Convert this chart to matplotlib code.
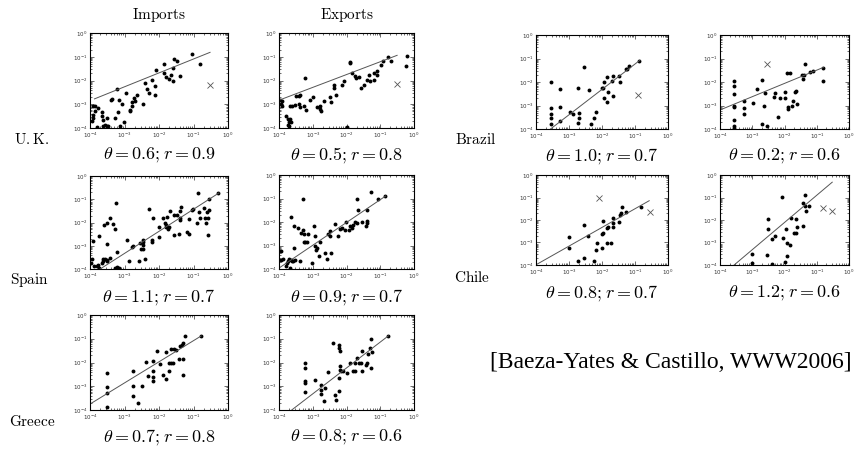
import numpy as np
import matplotlib
matplotlib.use("Agg")
import matplotlib.pyplot as plt
from matplotlib.ticker import LogLocator, LogFormatterSciNotation, NullFormatter

plt.rcParams['mathtext.fontset'] = 'cm'
plt.rcParams['axes.formatter.use_mathtext'] = True

# exponents (log10) of the points
uk_imp_x = [-1.04, -0.80, -1.86, -1.57, -1.48, -1.59, -1.64, -1.86, -1.80, -1.70, -1.59, -1.38, -2.08, -2.20,
            -2.40, -2.35, -2.11, -2.11, -2.30, -2.45, -2.64, -2.72, -2.69, -2.79, -2.83, -2.85, -2.96, -3.06,
            -3.22, -3.37, -3.40, -3.27, -3.20, -3.01, -3.13, -3.47, -3.51, -3.66, -3.66, -3.85, -3.90, -3.85,
            -3.76, -3.90, -3.95, -3.90, -3.61, -3.56, -3.51, -3.63, -3.81, -3.17, -2.79]
uk_imp_y = [-0.87, -1.32, -1.30, -1.11, -1.18, -1.46, -1.75, -1.70, -1.86, -1.93, -2.00, -1.82, -1.56, -1.96,
            -2.10, -2.34, -2.24, -2.59, -2.52, -2.97, -2.59, -2.73, -2.87, -2.92, -3.23, -3.30, -2.52, -2.97,
            -2.35, -2.76, -2.80, -3.58, -3.34, -3.76, -3.93, -3.90, -3.58, -3.34, -3.48, -3.27, -3.08, -3.06,
            -3.15, -3.44, -3.72, -3.58, -3.65, -3.86, -3.93, -3.90, -3.96, -2.80, -3.06]

uk_exp_x = [-0.20, -0.23, -0.76, -0.67, -0.93, -0.99, -1.09, -1.19, -1.09, -1.33, -1.39, -1.29, -1.19, -1.47,
            -1.57, -1.91, -1.90, -1.84, -1.76, -1.71, -1.64, -2.06, -2.13, -2.36, -2.38, -2.30, -2.50, -2.45,
            -2.68, -2.80, -2.86, -2.78, -2.75, -3.08, -2.98, -3.23, -3.26, -3.21, -3.42, -3.37, -3.49, -3.42,
            -3.37, -3.54, -3.67, -3.62, -3.97, -3.92, -3.95, -3.92, -3.80, -3.72, -3.67, -3.69, -3.65, -3.72,
            -3.69, -2.00]
uk_exp_y = [-0.97, -1.37, -1.00, -1.18, -1.18, -1.34, -1.58, -1.68, -1.75, -1.75, -1.96, -2.03, -1.99, -2.17,
            -2.31, -1.23, -1.25, -1.68, -1.79, -1.89, -1.85, -2.00, -2.17, -2.17, -2.31, -2.59, -2.69, -2.92,
            -2.87, -3.06, -3.11, -3.20, -3.30, -2.80, -2.70, -1.89, -3.08, -3.23, -2.66, -2.59, -2.66, -2.97,
            -3.11, -3.04, -3.06, -3.06, -2.80, -2.87, -2.97, -3.08, -3.51, -3.62, -3.61, -3.73, -3.73, -3.86,
            -3.93, -3.97]

es_imp_x = [-0.87, -0.29, -0.55, -1.36, -1.38, -1.67, -1.57, -1.77, -1.83, -1.79, -1.81, -1.71, -1.75, -1.48,
            -1.38, -1.40, -1.57, -1.43, -1.88, -2.16, -2.30, -2.01, -2.01, -2.20, -2.20, -2.45, -2.47, -2.47,
            -2.54, -2.52, -2.45, -2.42, -2.59, -2.74, -2.79, -2.93, -2.88, -3.17, -3.22, -3.27, -3.24, -3.42,
            -3.50, -3.59, -3.32, -3.27, -3.22, -3.51, -3.73, -3.42, -3.51, -3.56, -3.50, -3.61, -3.66, -3.76,
            -3.61, -3.79, -3.88, -3.95, -3.92, -3.98, -3.73, -1.14, -1.14, -1.01, -1.04, -0.84, -0.91, -0.80,
            -0.68, -0.70, -0.62, -0.58, -0.55, -0.65, -0.58, -1.18]
es_imp_y = [-0.75, -0.75, -1.00, -1.35, -1.49, -1.49, -1.68, -1.75, -2.00, -2.10, -2.18, -2.18, -2.29, -1.68,
            -1.82, -1.89, -2.53, -2.49, -1.82, -1.82, -1.44, -2.21, -2.61, -2.75, -2.82, -2.75, -2.82, -2.96,
            -2.89, -3.13, -3.15, -3.57, -3.64, -3.00, -3.06, -2.75, -3.67, -3.96, -3.93, -3.96, -1.18, -1.82,
            -2.04, -2.10, -2.08, -2.29, -3.25, -2.92, -2.58, -3.53, -3.60, -3.56, -3.64, -3.67, -3.74, -3.81,
            -3.56, -3.89, -3.89, -3.56, -2.78, -3.74, -3.96, -2.51, -1.85, -1.40, -1.47, -1.54, -2.04, -1.82,
            -1.82, -1.37, -1.54, -2.53, -1.47, -2.04, -1.82, -2.39]

es_exp_x = [-1.27, -0.86, -1.06, -1.70, -3.28, -1.67, -1.38, -1.40, -1.40, -1.42, -1.55, -1.70, -1.75, -1.80,
            -1.85, -1.90, -1.92, -2.04, -2.01, -2.14, -2.19, -2.26, -2.34, -2.49, -2.49, -2.54, -2.46, -2.57,
            -2.64, -2.79, -2.81, -2.86, -2.90, -2.93, -2.96, -2.93, -3.03, -3.15, -3.18, -3.22, -3.26, -3.26,
            -3.30, -3.35, -3.45, -3.56, -3.64, -3.55, -3.38, -3.53, -3.58, -3.62, -3.65, -3.69, -3.72, -3.77,
            -3.79, -3.67, -3.89, -3.95, -3.95]
es_exp_y = [-0.71, -0.89, -1.02, -1.00, -1.02, -1.51, -1.48, -1.95, -2.05, -2.15, -1.98, -2.05, -2.02, -2.12,
            -2.26, -2.19, -2.33, -2.33, -1.98, -2.26, -2.30, -2.59, -2.09, -2.37, -2.61, -2.52, -3.32, -3.58,
            -3.32, -2.87, -3.46, -3.11, -3.18, -3.01, -2.19, -2.61, -3.75, -2.52, -2.87, -2.85, -2.87, -2.50,
            -2.33, -2.47, -2.26, -2.19, -1.80, -3.11, -3.65, -3.60, -3.67, -3.67, -3.60, -3.58, -3.67, -3.75,
            -3.86, -3.96, -3.58, -3.25, -3.60]

gr_imp_x = [-0.78, -1.26, -1.30, -1.33, -1.40, -1.50, -1.57, -1.65, -1.79, -1.41, -1.30, -1.30, -1.59, -1.65,
            -1.72, -1.72, -1.80, -1.88, -2.06, -1.98, -2.16, -2.16, -2.17, -2.17, -2.32, -2.38, -2.50, -2.74,
            -2.74, -2.74, -2.62, -3.50, -3.50, -3.50, -3.50]
gr_imp_y = [-0.87, -0.89, -1.16, -1.26, -1.29, -1.47, -1.45, -1.45, -1.54, -1.87, -1.87, -2.53, -2.01, -2.01,
            -2.04, -2.36, -2.71, -2.53, -1.50, -2.06, -1.92, -2.34, -2.60, -2.78, -2.57, -1.96, -2.98, -2.36,
            -2.99, -3.40, -3.72, -2.46, -3.05, -3.30, -3.86]

gr_exp_x = [-0.78, -1.27, -1.30, -1.25, -1.35, -1.40, -1.42, -1.27, -1.55, -1.58, -1.53, -1.62, -1.68, -1.75,
            -1.82, -1.75, -1.90, -2.00, -2.09, -2.19, -2.21, -2.21, -2.19, -2.39, -2.19, -2.16, -2.21, -2.21,
            -2.34, -2.32, -2.54, -2.64, -2.66, -2.76, -2.76, -2.77, -2.93, -3.24, -3.24, -3.24, -3.24, -3.24]
gr_exp_y = [-0.88, -1.01, -1.38, -1.54, -1.66, -2.01, -2.11, -2.22, -1.50, -2.01, -2.36, -2.04, -1.82, -2.04,
            -2.34, -2.36, -2.04, -2.43, -2.36, -2.32, -1.40, -1.26, -1.52, -1.19, -2.15, -2.36, -2.67, -3.19,
            -3.37, -3.58, -2.39, -3.09, -3.61, -2.95, -3.16, -3.34, -2.74, -2.04, -2.22, -2.78, -2.85, -3.24]

br_imp_x = [-0.88, -1.18, -1.23, -1.28, -1.50, -1.45, -1.68, -1.70, -1.85, -1.95, -2.01, -1.96, -1.68, -1.82,
            -1.85, -1.95, -2.19, -2.24, -2.34, -2.39, -2.54, -2.74, -2.69, -2.69, -2.74, -2.89, -2.96, -3.27,
            -3.27, -3.27, -3.56, -3.56, -3.56, -3.56, -3.55]
br_imp_y = [-1.09, -1.30, -1.46, -1.46, -1.74, -1.99, -1.74, -1.96, -1.80, -1.99, -2.27, -2.27, -2.58, -2.41,
            -2.87, -2.70, -3.29, -3.55, -3.79, -2.34, -1.35, -2.24, -3.30, -3.55, -3.76, -3.38, -3.26, -2.31,
            -3.08, -3.65, -1.99, -3.12, -3.38, -3.52, -3.80]

br_exp_x = [-0.80, -1.37, -1.13, -1.22, -1.40, -1.47, -1.44, -0.80, -1.84, -1.91, -1.63, -1.66, -1.73, -1.89,
            -1.89, -1.78, -1.60, -1.97, -1.97, -2.14, -2.30, -2.33, -2.20, -2.64, -2.69, -2.85, -2.97, -2.71,
            -2.53, -3.26, -3.26, -3.26, -3.57, -3.57, -3.57, -3.57, -3.57, -3.57, -3.57, -3.57, -2.61]
br_exp_y = [-1.39, -1.25, -1.53, -1.56, -1.70, -1.70, -1.89, -1.94, -1.63, -1.63, -2.37, -2.41, -2.81, -3.08,
            -3.16, -3.02, -2.95, -2.41, -2.67, -2.70, -2.48, -2.65, -3.48, -3.02, -1.91, -2.31, -2.91, -3.79,
            -3.87, -2.79, -3.12, -3.38, -1.94, -2.17, -2.51, -3.02, -3.08, -3.62, -3.87, -3.94, -2.48]

cl_imp_x = [-0.83, -1.27, -1.40, -1.42, -1.45, -1.47, -1.68, -1.66, -1.66, -1.81, -1.84, -1.96, -1.98, -2.01,
            -2.14, -1.73, -1.86, -2.01, -2.18, -2.23, -2.54, -2.41, -2.54, -2.72, -2.99, -3.00]
cl_imp_y = [-1.41, -1.63, -1.44, -1.70, -1.78, -2.07, -1.90, -2.12, -2.30, -2.30, -2.34, -2.04, -2.59, -2.62,
            -3.01, -3.01, -3.01, -3.23, -3.33, -3.81, -2.22, -2.70, -3.67, -3.81, -2.74, -3.24]

cl_exp_x = [-1.37, -1.42, -1.35, -1.24, -1.32, -1.42, -2.07, -1.63, -1.60, -1.70, -1.65, -1.81, -1.94, -1.91,
            -1.84, -2.06, -1.92, -1.99, -2.30, -2.38, -2.51, -2.51, -2.53, -2.40, -3.00, -3.00]
cl_exp_y = [-0.89, -1.26, -1.36, -1.36, -1.59, -2.27, -0.96, -1.96, -2.30, -2.56, -2.59, -1.93, -2.41, -3.04,
            -3.11, -2.81, -3.59, -3.88, -2.71, -2.86, -1.97, -2.40, -3.56, -3.97, -3.53, -3.93]

# outliers drawn as crosses
uk_imp_cross = ([-0.52], [-2.21])
uk_exp_cross = ([-0.50], [-2.13])
br_imp_cross = ([-0.90], [-2.55])
br_exp_cross = ([-2.53], [-1.23])
cl_imp_cross = ([-2.09, -0.55], [-1.04, -1.63])
cl_exp_cross = ([-0.80, -0.52], [-1.48, -1.59])
no_cross = ([], [])

# fitted lines: slope, intercept (log-log), x-range of exponent
fit_slope = [0.585, 0.54, 0.95, 0.97, 0.89, 1.09, 1.08, 0.565, 0.83, 1.21]
fit_icpt = [-0.51, -0.67, -0.48, -0.08, -0.19, -0.05, -0.155, -0.93, -0.67, 0.31]
fit_x0 = [-3.87, -4.0, -3.71, -4.0, -4.0, -3.62, -3.56, -4.0, -4.0, -3.56]
fit_x1 = [-0.52, -0.50, -0.26, -0.84, -0.78, -0.76, -0.85, -0.80, -0.57, -0.52]

theta_labels = [r'$\theta = 0.6; r = 0.9$', r'$\theta = 0.5; r = 0.8$',
                r'$\theta = 1.1; r = 0.7$', r'$\theta = 0.9; r = 0.7$',
                r'$\theta = 0.7; r = 0.8$', r'$\theta = 0.8; r = 0.6$',
                r'$\theta = 1.0; r = 0.7$', r'$\theta = 0.2; r = 0.6$',
                r'$\theta = 0.8; r = 0.7$', r'$\theta = 1.2; r = 0.6$']

panels = [
    (uk_imp_x, uk_imp_y, uk_imp_cross), (uk_exp_x, uk_exp_y, uk_exp_cross),
    (es_imp_x, es_imp_y, no_cross), (es_exp_x, es_exp_y, no_cross),
    (gr_imp_x, gr_imp_y, no_cross), (gr_exp_x, gr_exp_y, no_cross),
    (br_imp_x, br_imp_y, br_imp_cross), (br_exp_x, br_exp_y, br_exp_cross),
    (cl_imp_x, cl_imp_y, cl_imp_cross), (cl_exp_x, cl_exp_y, cl_exp_cross),
]

# axes boxes in pixels: left, top, right, bottom
boxes = [
    (90, 33, 228, 128), (279, 33, 414, 128),
    (90, 176, 228, 269), (279, 175, 414, 269),
    (90, 315, 228, 410), (279, 315, 414, 410),
    (536, 35, 668, 129), (720, 35, 849, 129),
    (536, 175, 668, 265), (720, 175, 849, 265),
]
theta_y = [155, 155, 297, 297, 437, 437, 156, 156, 293, 293]

W, H = 855, 449
fig = plt.figure(figsize=(W / 100, H / 100), dpi=100)

for i, ((xs, ys, cross), (l, t, r, b)) in enumerate(zip(panels, boxes)):
    ax = fig.add_axes([l / W, 1 - b / H, (r - l) / W, (b - t) / H])
    ax.set_xscale('log')
    ax.set_yscale('log')
    ax.plot(10 ** np.array(xs), 10 ** np.array(ys), 'o', color='black', ms=2.8, mew=0)
    if cross[0]:
        ax.plot(10 ** np.array(cross[0]), 10 ** np.array(cross[1]), 'x', color='#555555', ms=3.8, mew=0.6)
    lx = np.array([fit_x0[i], fit_x1[i]])
    ax.plot(10 ** lx, 10 ** (fit_icpt[i] + fit_slope[i] * lx), color='#555555', lw=0.7)
    ax.set_xlim(1e-4, 1)
    ax.set_ylim(1e-4, 1)
    for a in (ax.xaxis, ax.yaxis):
        a.set_major_locator(LogLocator(base=10, numticks=10))
        a.set_major_formatter(LogFormatterSciNotation())
        a.set_minor_locator(LogLocator(base=10, subs=np.arange(2, 10), numticks=10))
        a.set_minor_formatter(NullFormatter())
    ax.tick_params(which='both', direction='in', top=True, right=True, labelsize=4,
                   width=0.5, colors='#333333', pad=2)
    ax.tick_params(which='major', length=3)
    ax.tick_params(which='minor', length=1.5)
    for s in ax.spines.values():
        s.set_linewidth(0.8)
    xc = (l + r) / 2 / W
    fig.text(xc, 1 - theta_y[i] / H, theta_labels[i], ha='center', va='center', fontsize=13)

fig.text(159 / W, 1 - 15 / H, r'$\mathrm{Imports}$', ha='center', va='center', fontsize=11)
fig.text(347 / W, 1 - 15 / H, r'$\mathrm{Exports}$', ha='center', va='center', fontsize=11)
fig.text(32 / W, 1 - 140 / H, r'$\mathrm{U.K.}$', ha='center', va='center', fontsize=11)
fig.text(30 / W, 1 - 280 / H, r'$\mathrm{Spain}$', ha='center', va='center', fontsize=11)
fig.text(32 / W, 1 - 422 / H, r'$\mathrm{Greece}$', ha='center', va='center', fontsize=11)
fig.text(476 / W, 1 - 140 / H, r'$\mathrm{Brazil}$', ha='center', va='center', fontsize=11)
fig.text(472 / W, 1 - 277 / H, r'$\mathrm{Chile}$', ha='center', va='center', fontsize=11)

fig.text(852 / W, 1 - 363 / H, '[Baeza-Yates & Castillo, WWW2006]', ha='right', va='center',
         fontsize=17, family='Liberation Serif')

fig.savefig('out.png', dpi=100)
